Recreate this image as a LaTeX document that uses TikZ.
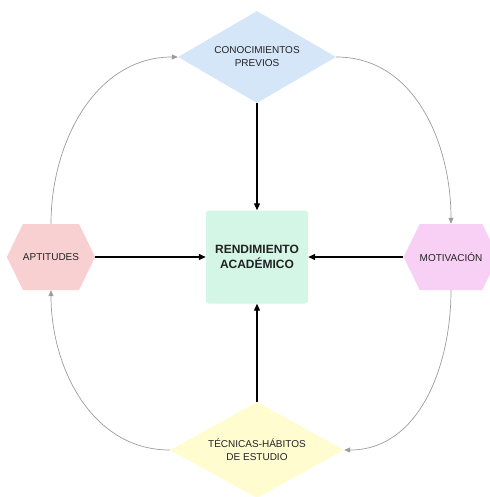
\documentclass[tikz,border=0pt]{standalone}
\usepackage{fontspec}
\setmainfont{Liberation Sans}
\usetikzlibrary{shapes.geometric,shapes.symbols,arrows.meta}
\definecolor{cblue}{HTML}{D5E6F8}
\definecolor{cpink}{HTML}{F9D0D1}
\definecolor{cmag}{HTML}{F8D0F5}
\definecolor{cmint}{HTML}{D3F6E6}
\definecolor{cyel}{HTML}{FFFCD0}
\definecolor{ctext}{HTML}{222222}
\definecolor{cgrey}{HTML}{9C9C9C}
\tikzset{
  lbl/.style={font=\fontsize{10}{13}\selectfont, text=ctext, align=center},
  dia/.style={diamond, lbl, inner sep=0pt},
  hexa/.style={signal, signal to=west and east, signal pointer angle=128, lbl,
    inner sep=0pt, minimum width=88pt, minimum height=66pt},
  blackarr/.style={line width=1.2pt, -{Triangle[length=7pt,width=6pt]}},
  greyarr/.style={draw=cgrey, line width=0.7pt, -{Triangle[length=6pt,width=5pt]}, fill=none},
}
\begin{document}
\begin{tikzpicture}[x=1pt,y=-1pt]
\useasboundingbox (0,0) rectangle (489,497);
\node[dia, fill=cblue, minimum width=158pt, minimum height=92pt, aspect=1.7] (con) at (257,57) {CONOCIMIENTOS\\PREVIOS};
\node[dia, fill=cyel, minimum width=174pt, minimum height=96pt, aspect=1.8] (tec) at (257,450) {TÉCNICAS-HÁBITOS\\DE ESTUDIO};
\node[hexa, fill=cpink] (apt) at (51,257) {APTITUDES};
\node[hexa, fill=cmag] (mot) at (451,257) {MOTIVACIÓN};
\node[rectangle, rounded corners=3pt, fill=cmint, minimum width=102pt, minimum height=93pt,
  font=\bfseries\fontsize{12}{15}\selectfont, text=ctext, align=center] (ren) at (257,257) {RENDIMIENTO\\ACADÉMICO};
\draw[blackarr] (con.south) -- (ren.north);
\draw[blackarr] (apt.east) -- (ren.west);
\draw[blackarr] (mot.west) -- (ren.east);
\draw[blackarr] (tec.north) -- (ren.south);
\draw[greyarr] (apt.north) to[out=90,in=180] (con.west);
\draw[greyarr] (con.east) to[out=0,in=90] (mot.north);
\draw[greyarr] (mot.south) to[out=-90,in=0] (tec.east);
\draw[greyarr] (tec.west) to[out=180,in=-90] (apt.south);
\end{tikzpicture}
\end{document}
